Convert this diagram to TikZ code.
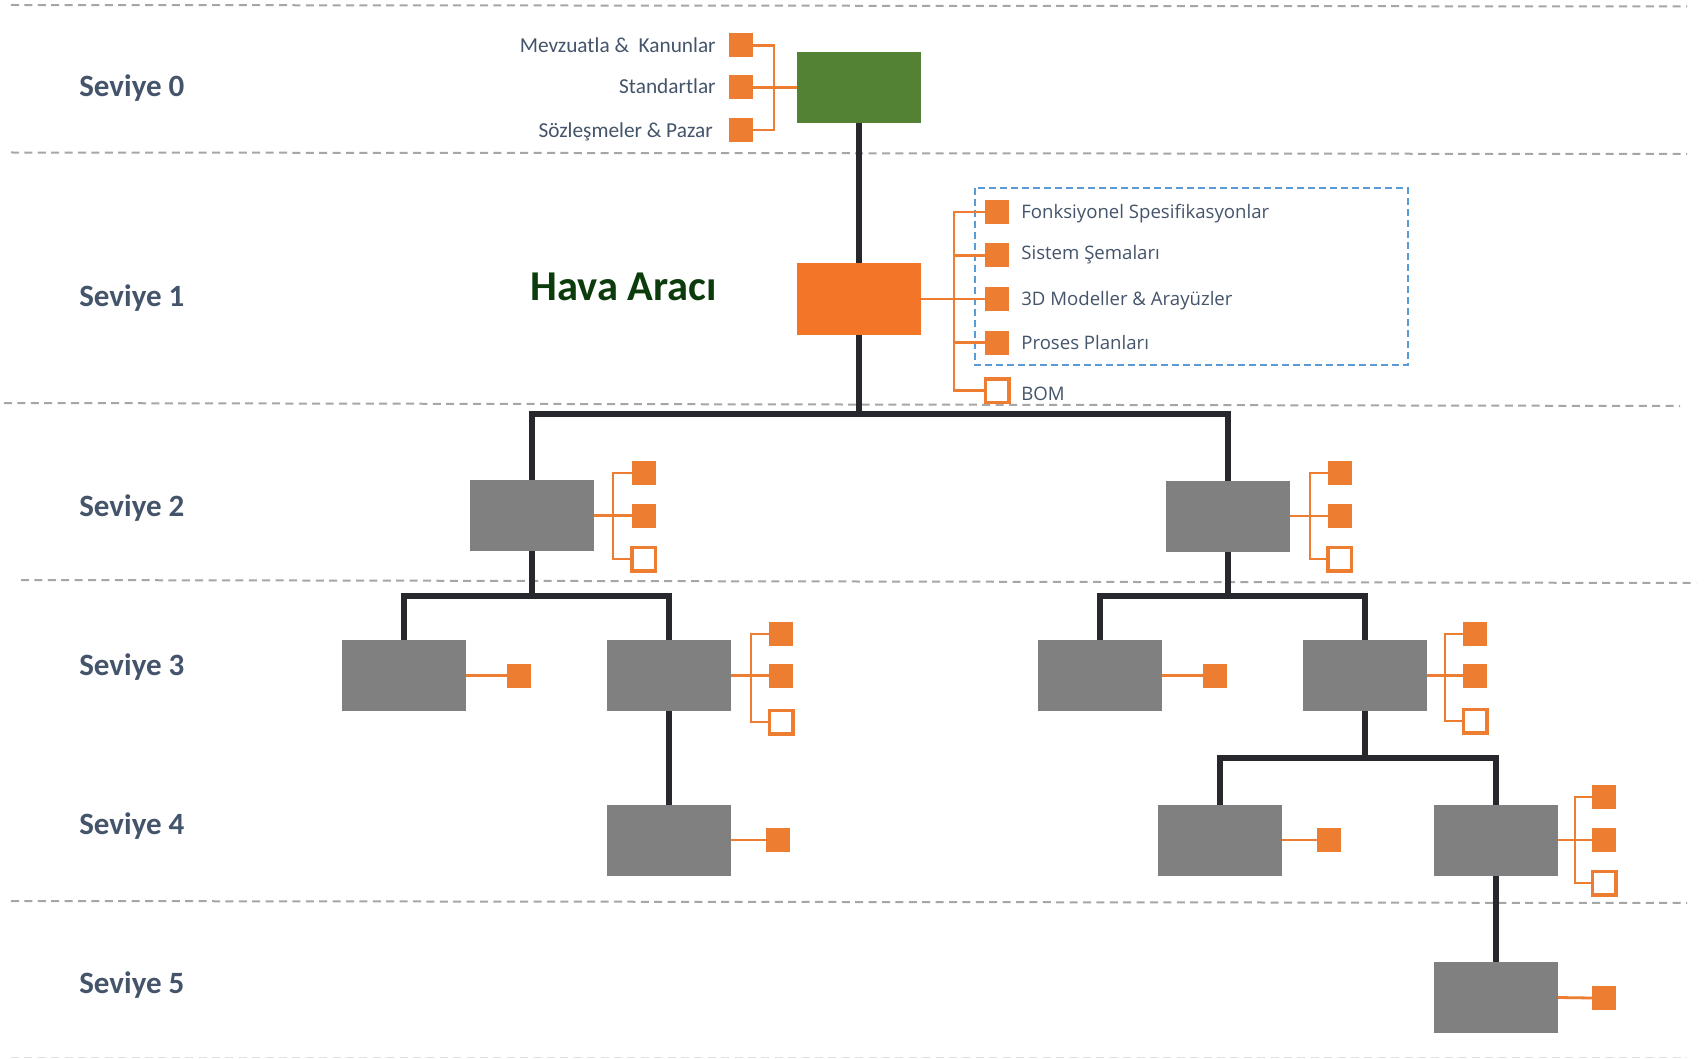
\documentclass[tikz,border=0pt]{standalone}
\usepackage{fontspec}
\setmainfont{Carlito}
\newfontfamily\osans{Open Sans}
\definecolor{orng}{HTML}{ED7D31}
\definecolor{obox}{HTML}{F37528}
\definecolor{gbox}{HTML}{548235}
\definecolor{graybox}{HTML}{808080}
\definecolor{trunkc}{HTML}{27282D}
\definecolor{sepc}{HTML}{A6A6A6}
\definecolor{slate}{HTML}{44546A}
\definecolor{darkg}{HTML}{0C3C0C}
\definecolor{blued}{HTML}{5B9BD5}
\begin{document}
\begin{tikzpicture}[x=1pt,y=-1pt,
  every node/.style={outer sep=0pt},
  bigbox/.style={rectangle,minimum width=124pt,minimum height=71pt,inner sep=0pt},
  gray box/.style={bigbox,fill=graybox},
  sq/.style={rectangle,fill=orng,minimum size=24pt,inner sep=0pt},
  hsq/.style={rectangle,draw=orng,line width=3.5pt,fill=white,minimum size=23.5pt,inner sep=0pt},
  trunk/.style={draw=trunkc,line width=6pt},
  oline/.style={draw=orng,line width=2.8pt},
  sep/.style={draw=sepc,line width=2pt,dash pattern=on 8pt off 5.4pt},
  lvl/.style={anchor=base west,text=slate,font=\fontsize{31}{37}\selectfont\bfseries},
  lbl0/.style={anchor=base east,text=slate,font=\fontsize{21.3}{25}\selectfont},
  lbl1/.style={anchor=base west,text=slate,font=\osans\fontsize{18.6}{22}\selectfont}
]
\useasboundingbox (0,0) rectangle (1705,1059);
\fill[white] (0,0) rectangle (1705,1059);

% separators
\draw[sep] (11,5) -- (1687,6.5);
\draw[sep] (11,152.5) -- (1687,154);
\draw[sep] (4,403) -- (1680,406);
\draw[sep] (21,580) -- (1696,583);
\draw[sep] (11,901) -- (1687,903);
\draw[draw=black!12,line width=1.5pt,dash pattern=on 8pt off 5.4pt] (11,1057.5) -- (1687,1057.5);

% level labels
\node[lvl] (lv0) at (76,96.5) {Seviye 0};
\node[lvl] (lv1) at (76,306) {Seviye 1};
\node[lvl] (lv2) at (76,516) {Seviye 2};
\node[lvl] (lv3) at (76,675.5) {Seviye 3};
\node[lvl] (lv4) at (76,834) {Seviye 4};
\node[lvl] (lv5) at (76,993) {Seviye 5};

\node[anchor=base west,text=darkg,font=\fontsize{42.5}{50}\selectfont\bfseries] (hava) at (527,300.7) {Hava Aracı};

% main boxes
\node[bigbox,fill=gbox] (g) at (859,87.5) {};
\node[bigbox,fill=obox] (o) at (859,299) {};
\node[gray box] (l2a) at (532,515.5) {};
\node[gray box] (l2b) at (1228,516) {};
\node[gray box] (l3a) at (404,675.5) {};
\node[gray box] (l3b) at (669,675.5) {};
\node[gray box] (l3c) at (1100,675.5) {};
\node[gray box] (l3d) at (1365,675.5) {};
\node[gray box] (l4a) at (669,840) {};
\node[gray box] (l4b) at (1220,840) {};
\node[gray box] (l4c) at (1496,840) {};
\node[gray box] (l5) at (1496,997.5) {};

% trunk connectors
\coordinate (j1) at (859,414);
\coordinate (j2) at (532,596);
\coordinate (j3) at (1228,596);
\coordinate (j4) at (1365,758);
\draw[trunk] (g.south) -- (o.north);
\draw[trunk] (o.south) -- (j1);
\draw[trunk] (l2a.north) -- (l2a.north |- j1) -- (l2b.north |- j1) -- (l2b.north);
\draw[trunk] (l2a.south) -- (j2);
\draw[trunk] (l3a.north) -- (l3a.north |- j2) -- (l3b.north |- j2) -- (l3b.north);
\draw[trunk] (l2b.south) -- (j3);
\draw[trunk] (l3c.north) -- (l3c.north |- j3) -- (l3d.north |- j3) -- (l3d.north);
\draw[trunk] (l3b.south) -- (l4a.north);
\draw[trunk] (l3d.south) -- (j4);
\draw[trunk] (l4b.north) -- (l4b.north |- j4) -- (l4c.north |- j4) -- (l4c.north);
\draw[trunk] (l4c.south) -- (l5.north);

% level 0 documents
\node[sq] (s01) at (741,45.5) {};
\node[sq] (s02) at (741,87.5) {};
\node[sq] (s03) at (741,130) {};
\coordinate (c0) at (774,87.5);
\draw[oline] (g.west) -- (s02.east);
\draw[oline] (s01.east) -- (s01.east -| c0) -- (s03.east -| c0) -- (s03.east);
\node[lbl0] (t01) at (719,52.3) {Mevzuatla \& \ Kanunlar};
\node[lbl0] (t02) at (719,94) {Standartlar};
\node[lbl0] (t03) at (716,137.3) {Sözleşmeler \& Pazar};

% level 1 documents
\draw[draw=blued,line width=2.2pt,dash pattern=on 7pt off 4pt] (975,188) rectangle (1408,365);
\node[sq] (s11) at (997,212) {};
\node[sq] (s12) at (997,255.5) {};
\node[sq] (s13) at (997,299) {};
\node[sq] (s14) at (997,342.5) {};
\node[hsq] (s15) at (997,390.5) {};
\coordinate (c1) at (954,299);
\draw[oline] (o.east) -- (s13.west);
\draw[oline] (s11.west) -- (s11.west -| c1) -- (s15.west -| c1) -- (s15.west);
\draw[oline] (s12.west -| c1) -- (s12.west);
\draw[oline] (s14.west -| c1) -- (s14.west);
\node[lbl1] (t11) at (1018,219) {Fonksiyonel Spesifikasyonlar};
\node[lbl1] (t12) at (1018,260) {Sistem Şemaları};
\node[lbl1] (t13) at (1018,305.5) {3D Modeller \& Arayüzler};
\node[lbl1] (t14) at (1018,349.5) {Proses Planları};
\node[lbl1] (t15) at (1018,400) {BOM};

% level 2 documents
\node[sq] (s2a1) at (643.5,473) {};
\node[sq] (s2a2) at (643.5,515.5) {};
\node[hsq] (s2a3) at (643.5,559) {};
\coordinate (c2a) at (613,515.5);
\draw[oline] (l2a.east) -- (s2a2.west);
\draw[oline] (s2a1.west) -- (s2a1.west -| c2a) -- (s2a3.west -| c2a) -- (s2a3.west);

\node[sq] (s2b1) at (1339.5,473) {};
\node[sq] (s2b2) at (1339.5,516) {};
\node[hsq] (s2b3) at (1339.5,559) {};
\coordinate (c2b) at (1310,516);
\draw[oline] (l2b.east) -- (s2b2.west);
\draw[oline] (s2b1.west) -- (s2b1.west -| c2b) -- (s2b3.west -| c2b) -- (s2b3.west);

% level 3 documents
\node[sq] (s3a) at (519,675.5) {};
\draw[oline] (l3a.east) -- (s3a.west);

\node[sq] (s3b1) at (781,634) {};
\node[sq] (s3b2) at (781,675.5) {};
\node[hsq] (s3b3) at (781,722) {};
\coordinate (c3b) at (751,675.5);
\draw[oline] (l3b.east) -- (s3b2.west);
\draw[oline] (s3b1.west) -- (s3b1.west -| c3b) -- (s3b3.west -| c3b) -- (s3b3.west);

\node[sq] (s3c) at (1215,675.5) {};
\draw[oline] (l3c.east) -- (s3c.west);

\node[sq] (s3d1) at (1475,634) {};
\node[sq] (s3d2) at (1475,675.5) {};
\node[hsq] (s3d3) at (1475,721) {};
\coordinate (c3d) at (1445,675.5);
\draw[oline] (l3d.east) -- (s3d2.west);
\draw[oline] (s3d1.west) -- (s3d1.west -| c3d) -- (s3d3.west -| c3d) -- (s3d3.west);

% level 4 documents
\node[sq] (s4a) at (778,840) {};
\draw[oline] (l4a.east) -- (s4a.west);
\node[sq] (s4b) at (1328.5,840) {};
\draw[oline] (l4b.east) -- (s4b.west);

\node[sq] (s4c1) at (1604,797) {};
\node[sq] (s4c2) at (1604,840) {};
\node[hsq] (s4c3) at (1604,883) {};
\coordinate (c4c) at (1575,840);
\draw[oline] (l4c.east) -- (s4c2.west);
\draw[oline] (s4c1.west) -- (s4c1.west -| c4c) -- (s4c3.west -| c4c) -- (s4c3.west);

% level 5 documents
\node[sq] (s5) at (1604,998) {};
\draw[oline] (l5.east) -- (s5.west);
\end{tikzpicture}
\end{document}
